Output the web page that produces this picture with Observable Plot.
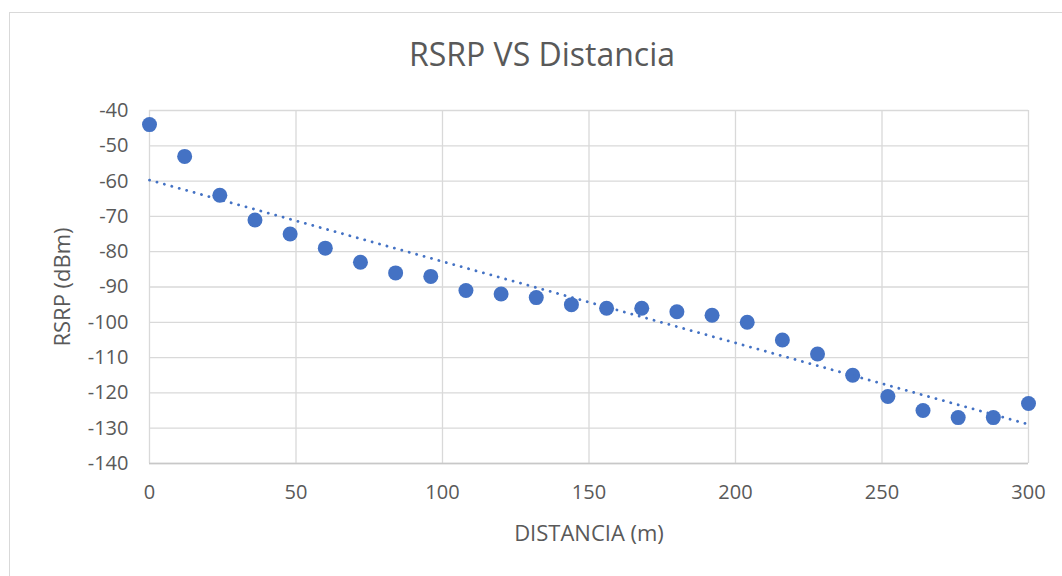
<!DOCTYPE html>
<html>
<head>
<meta charset="utf-8">
<script src="https://cdn.jsdelivr.net/npm/d3@7"></script>
<script src="https://cdn.jsdelivr.net/npm/@observablehq/plot@0.6"></script>
<style>
  html, body { margin: 0; padding: 0; background: #fff; overflow: hidden; }
  #wrap { position: relative; width: 1062px; height: 576px; }
  #border { position: absolute; left: 9px; top: 12px; width: 1100px; height: 600px; border: 1px solid #d9d9d9; box-sizing: border-box; }
  #chart { position: absolute; left: 0; top: 0; }
</style>
</head>
<body>
<div id="wrap"><div id="border"></div><div id="chart"></div></div>
<script>
const distancia = [0, 12, 24, 36, 48, 60, 72, 84, 96, 108, 120, 132, 144, 156, 168, 180, 192, 204, 216, 228, 240, 252, 264, 276, 288, 300];
const rsrp = [-44, -53, -64, -71, -75, -79, -83, -86, -87, -91, -92, -93, -95, -96, -96, -97, -98, -100, -105, -109, -115, -121, -125, -127, -127, -123];
const xTicks = [0, 50, 100, 150, 200, 250, 300];
const yTicks = [-40, -50, -60, -70, -80, -90, -100, -110, -120, -130, -140];
const title = "RSRP VS Distancia";
const xLabel = "DISTANCIA (m)";
const yLabel = "RSRP (dBm)";

const data = distancia.map((d, i) => ({x: d, y: rsrp[i]}));
const blue = "#4472C4";
const grid = "#d9d9d9";
const textColor = "#595959";
const font = "'Open Sans', sans-serif";
const fmt = d => String(d);

const chart = Plot.plot({
  width: 1062,
  height: 576,
  marginLeft: 149,
  marginRight: 34,
  marginTop: 110,
  marginBottom: 113,
  style: {fontFamily: font, color: textColor, background: "transparent"},
  x: {domain: [0, 300]},
  y: {domain: [-140, -40]},
  marks: [
    Plot.gridX(xTicks, {stroke: grid, strokeOpacity: 1, strokeWidth: 1.3}),
    Plot.gridY(yTicks, {stroke: grid, strokeOpacity: 1, strokeWidth: 1.3}),
    Plot.ruleY([-140], {stroke: "#c8c8c8", strokeWidth: 1.5}),
    Plot.axisX(xTicks, {tickSize: 0, tickPadding: 21, fontSize: 20, label: null, fill: textColor, tickFormat: fmt}),
    Plot.axisY(yTicks, {tickSize: 0, tickPadding: 21, fontSize: 20, label: null, fill: textColor, tickFormat: fmt}),
    Plot.text([title], {frameAnchor: "top", dx: -47, dy: -55, fontSize: 32, fill: textColor, lineAnchor: "middle", textAnchor: "middle"}),
    Plot.text([xLabel], {frameAnchor: "bottom", dy: 70, fontSize: 22, fill: textColor, lineAnchor: "middle", textAnchor: "middle"}),
    Plot.text([yLabel], {frameAnchor: "left", dx: -87, rotate: -90, fontSize: 22, fill: textColor, lineAnchor: "middle", textAnchor: "middle"}),
    Plot.dot(data, {x: "x", y: "y", r: 7.5, fill: blue, stroke: "none"}),
    Plot.linearRegressionY(data, {x: "x", y: "y", ci: 0, stroke: blue, strokeWidth: 2.8, strokeDasharray: "0.1,7.6", strokeLinecap: "round"})
  ]
});
document.getElementById("chart").append(chart);
</script>
</body>
</html>
